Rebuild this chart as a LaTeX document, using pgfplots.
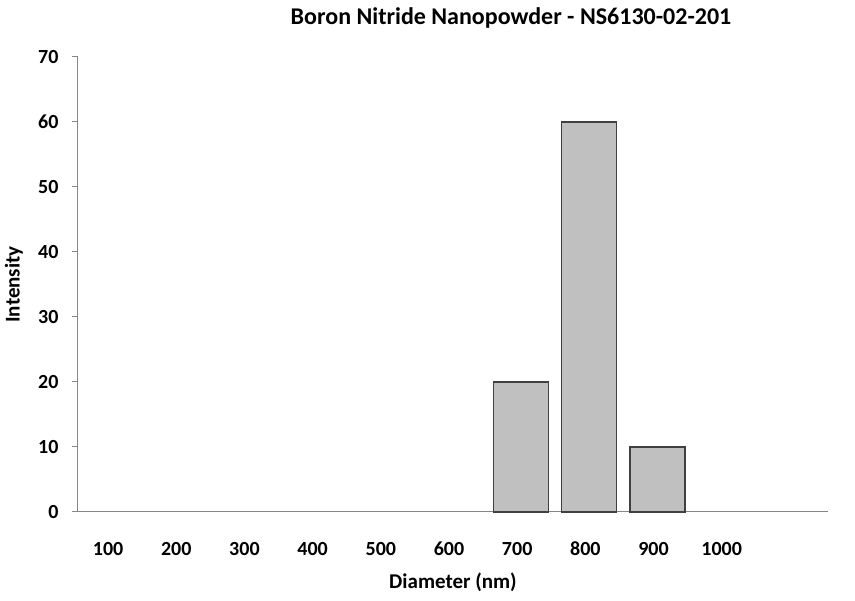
\documentclass[border=0pt]{standalone}
\usepackage{fontspec}
\setmainfont{Carlito}
\usepackage{pgfplots}
\pgfplotsset{compat=1.18}
\definecolor{axgray}{HTML}{868686}
\definecolor{barfill}{HTML}{C0C0C0}
\definecolor{baredge}{HTML}{404040}
\begin{document}
\begin{tikzpicture}
\useasboundingbox (-78pt,-89pt) rectangle (777pt,512pt);
\begin{axis}[
  scale only axis,
  width=750pt, height=455pt,
  at={(0,0)}, anchor=south west,
  xmin=-0.5, xmax=10.5,
  ymin=0, ymax=70,
  ytick={0,10,...,70},
  xtick={0,...,9},
  xticklabels={100,200,300,400,500,600,700,800,900,1000},
  axis x line*=bottom,
  axis y line*=left,
  axis line style={axgray, line width=1pt, -},
  major tick length=6pt,
  ytick style={axgray, line width=1pt},
  tick align=outside,
  xtick style={draw=none},
  ticklabel style={font=\fontsize{20}{24}\selectfont\bfseries},
  yticklabel style={xshift=-10pt},
  xticklabel style={anchor=base, yshift=-38pt, xshift=-4pt},
  /pgf/number format/assume math mode=true,
  ybar, bar width=55pt,
  xlabel={Diameter (nm)},
  ylabel={Intensity},
  label style={font=\fontsize{21}{25}\selectfont\bfseries},
  xlabel style={at={(axis description cs:0.5,0)}, anchor=center, yshift=-70pt},
  ylabel style={at={(axis description cs:0,0.5)}, anchor=center, yshift=64pt},
  clip=false,
]
\addplot[fill=barfill, draw=baredge, line width=1.2pt] coordinates {
  (6,20) (7,60) (8,10)
};
\end{axis}
\node[font=\fontsize{24}{28}\selectfont\bfseries] at (433pt,494pt) {Boron Nitride Nanopowder - NS6130-02-201};
\end{tikzpicture}
\end{document}
